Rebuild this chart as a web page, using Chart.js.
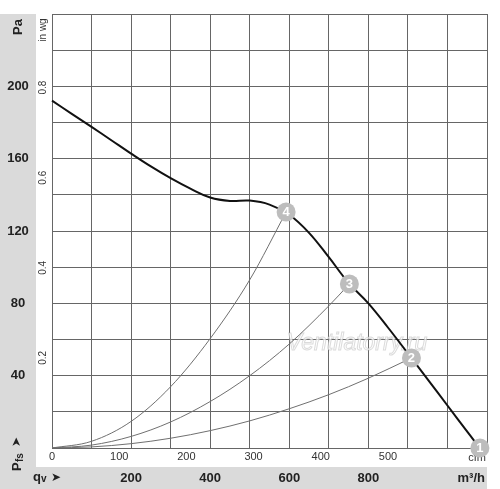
<!DOCTYPE html>
<html>
<head>
<meta charset="utf-8">
<script src="https://cdn.jsdelivr.net/npm/chart.js@4.4.1/dist/chart.umd.min.js"></script>
<style>
  html, body { margin: 0; padding: 0; background: #fff; }
  canvas { display: block; }
</style>
</head>
<body>
<canvas id="fanChart" width="500" height="489"></canvas>
<script>
const sans = "'Liberation Sans', Arial, sans-serif";
const bandColor = '#dadada';
const gridColor = '#666666';

// fan curve, qv in m3/h, pressure in Pa
const flowMain  = [0, 50, 100, 150, 200, 250, 300, 350, 400, 450, 500, 550, 600, 650, 700, 750, 800, 850, 900, 950, 1000, 1050, 1082];
const pressMain = [192.1, 184.8, 177.6, 170.2, 162.8, 155.7, 149.2, 143.4, 138.5, 136.6, 136.8, 134.6, 129, 119, 105.5, 91.3, 80, 66.5, 52.3, 38, 23.5, 9, 0];

// system curves
const flowSys4  = [0, 100, 200, 300, 400, 500, 592];
const pressSys4 = [0, 3.7, 14.7, 33.9, 60.5, 93, 130.5];
const flowSys3  = [0, 100, 200, 300, 400, 500, 600, 700, 752];
const pressSys3 = [0, 1.6, 6.4, 14.4, 25.7, 40, 57.5, 78.6, 90.7];
const flowSys2  = [0, 100, 200, 300, 400, 500, 600, 700, 800, 909];
const pressSys2 = [0, 0.6, 2.4, 5.4, 9.6, 15, 21.7, 29.5, 38.6, 49.8];

// operating points
const markerFlow  = [1082, 909, 752, 592];
const markerPress = [0, 49.8, 90.7, 130.5];
const markerLabels = ['1', '2', '3', '4'];

// axis labels
const paTicks   = [40, 80, 120, 160, 200];
const wgTicks   = [0.2, 0.4, 0.6, 0.8];
const cfmTicks  = [0, 100, 200, 300, 400, 500];
const m3hTicks  = [200, 400, 600, 800];
const PA_PER_INWG = 249.09;
const M3H_PER_CFM = 1.699;

const pts = (xs, ys) => xs.map((x, i) => ({ x, y: ys[i] }));

function rotText(ctx, text, x, y, font, color) {
  ctx.save();
  ctx.translate(x, y);
  ctx.rotate(-Math.PI / 2);
  ctx.font = font;
  ctx.fillStyle = color;
  ctx.textAlign = 'center';
  ctx.textBaseline = 'middle';
  ctx.fillText(text, 0, 0);
  ctx.restore();
}

const frame = {
  id: 'frame',
  beforeDraw(chart) {
    const ctx = chart.ctx;
    ctx.save();
    ctx.fillStyle = '#fff';
    ctx.fillRect(0, 0, chart.width, chart.height);
    ctx.fillStyle = bandColor;
    ctx.fillRect(0, 14, 36, chart.height - 14);
    ctx.fillRect(0, 467, 487, chart.height - 467);
    ctx.restore();
  },
  beforeDatasetsDraw(chart) {
    const ctx = chart.ctx;
    const xs = chart.scales.x;
    ctx.save();
    ctx.font = 'italic 23px ' + sans;
    ctx.textAlign = 'center';
    ctx.textBaseline = 'middle';
    ctx.lineWidth = 1;
    ctx.strokeStyle = 'rgba(190,190,190,0.55)';
    ctx.fillStyle = 'rgba(255,255,255,0.75)';
    ctx.fillText('Ventilatorry.ru', 357, 344);
    ctx.strokeText('Ventilatorry.ru', 357, 344);

    // cfm row (under the markers)
    ctx.font = '11px ' + sans;
    ctx.fillStyle = '#333';
    cfmTicks.forEach(v => ctx.fillText(String(v), xs.getPixelForValue(v * M3H_PER_CFM), 457));
    ctx.fillText('cfm', 477, 458);
    ctx.restore();
  },
  afterDraw(chart) {
    const ctx = chart.ctx;
    const xs = chart.scales.x, ys = chart.scales.y;
    ctx.save();

    // marker numbers
    ctx.font = 'bold 13px ' + sans;
    ctx.fillStyle = '#fff';
    ctx.textAlign = 'center';
    ctx.textBaseline = 'middle';
    markerLabels.forEach((t, i) => {
      ctx.fillText(t, xs.getPixelForValue(markerFlow[i]), ys.getPixelForValue(markerPress[i]) + 0.5);
    });

    // Pa column
    rotText(ctx, 'Pa', 18, 27, 'bold 13px ' + sans, '#222');
    ctx.font = 'bold 13px ' + sans;
    ctx.fillStyle = '#222';
    paTicks.forEach(v => ctx.fillText(String(v), 18, ys.getPixelForValue(v)));

    // in wg column
    rotText(ctx, 'in wg', 43.5, 30, '10px ' + sans, '#333');
    wgTicks.forEach(v => rotText(ctx, String(v), 43.5, ys.getPixelForValue(v * PA_PER_INWG), '10px ' + sans, '#333'));

    // m3/h row
    ctx.font = 'bold 13px ' + sans;
    ctx.fillStyle = '#222';
    m3hTicks.forEach(v => ctx.fillText(String(v), xs.getPixelForValue(v), 478));
    ctx.textAlign = 'right';
    ctx.fillText('m³/h', 485, 478);

    // qv arrow
    ctx.textAlign = 'left';
    ctx.font = 'bold 13px ' + sans;
    ctx.fillText('q', 33, 477);
    ctx.font = 'bold 10px ' + sans;
    ctx.fillText('v', 41, 479);
    ctx.font = 'bold 12px DejaVu Sans';
    ctx.fillText('➤', 51, 478);

    // Pfs arrow
    ctx.save();
    ctx.translate(17, 471);
    ctx.rotate(-Math.PI / 2);
    ctx.textAlign = 'left';
    ctx.textBaseline = 'middle';
    ctx.fillStyle = '#222';
    ctx.font = 'bold 13px ' + sans;
    ctx.fillText('P', 0, 0);
    ctx.font = 'bold 10px ' + sans;
    ctx.fillText('fs', 9, 3);
    ctx.font = 'bold 12px DejaVu Sans';
    ctx.fillText('➤', 24, 0);
    ctx.restore();

    ctx.restore();
  },
};

const sysLine = (data) => ({
  type: 'line',
  data,
  borderColor: '#707070',
  borderWidth: 1,
  pointRadius: 0,
  cubicInterpolationMode: 'monotone',
  fill: false,
});

new Chart(document.getElementById('fanChart'), {
  type: 'line',
  data: {
    datasets: [
      {
        type: 'scatter',
        data: pts(markerFlow, markerPress),
        pointRadius: 9.5,
        pointHoverRadius: 9.5,
        backgroundColor: '#bdbdbd',
        borderWidth: 0,
        clip: false,
        order: 0,
      },
      {
        data: pts(flowMain, pressMain),
        borderColor: '#111',
        borderWidth: 2,
        pointRadius: 0,
        tension: 0.4,
        fill: false,
        clip: false,
        order: 1,
      },
      { ...sysLine(pts(flowSys4, pressSys4)), order: 2 },
      { ...sysLine(pts(flowSys3, pressSys3)), order: 3 },
      { ...sysLine(pts(flowSys2, pressSys2)), order: 4 },
    ],
  },
  options: {
    responsive: false,
    animation: false,
    devicePixelRatio: 1,
    layout: { padding: { left: 52, top: 14, right: 13, bottom: 41 } },
    plugins: { legend: { display: false }, tooltip: { enabled: false } },
    scales: {
      x: {
        type: 'linear',
        min: 0,
        max: 1100,
        ticks: { display: false, stepSize: 100 },
        grid: { color: gridColor, lineWidth: 1, drawTicks: false },
        border: { color: gridColor },
      },
      y: {
        type: 'linear',
        min: 0,
        max: 240,
        ticks: { display: false, stepSize: 20 },
        grid: { color: gridColor, lineWidth: 1, drawTicks: false },
        border: { color: gridColor },
      },
    },
  },
  plugins: [frame],
});
</script>
</body>
</html>
